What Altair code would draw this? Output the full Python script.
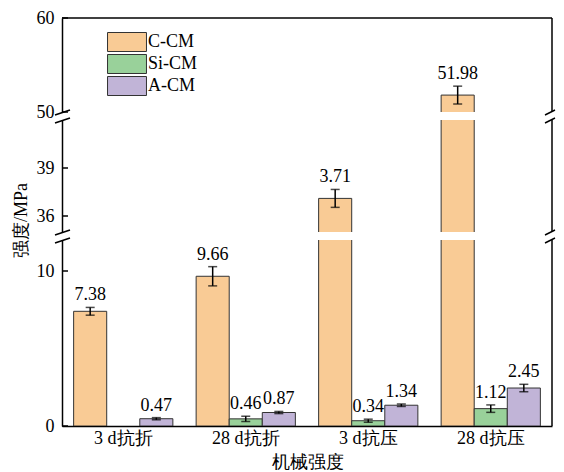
import altair as alt
import pandas as pd

categories = ["3 d抗折", "28 d抗折", "3 d抗压", "28 d抗压"]
series = ["C-CM", "Si-CM", "A-CM"]
colors = ["#F9CB95", "#99D19A", "#C1B4D7"]

c_vals = [7.40, 9.66, 37.10, 51.80]
c_err = [0.25, 0.62, 0.56, 0.95]
c_text = ["7.38", "9.66", "3.71", "51.98"]
si_vals = [None, 0.46, 0.34, 1.12]
si_err = [None, 0.17, 0.10, 0.24]
si_text = [None, "0.46", "0.34", "1.12"]
a_vals = [0.47, 0.87, 1.34, 2.45]
a_err = [0.07, 0.07, 0.08, 0.24]
a_text = ["0.47", "0.87", "1.34", "2.45"]

# broken axis segments: (name, low, high, tick values)
segments = [("top", 50, 60, [50, 60]), ("mid", 35, 42, [36, 39]), ("bot", 0, 12, [0, 10])]

FONT = "Liberation Serif"

rows = []
for s, vals, errs, texts in [("C-CM", c_vals, c_err, c_text), ("Si-CM", si_vals, si_err, si_text),
                             ("A-CM", a_vals, a_err, a_text)]:
    for cat, v, e, t in zip(categories, vals, errs, texts):
        if v is None:
            continue
        seg = "top" if v >= 50 else ("mid" if v >= 35 else "bot")
        rows.append({"cat": cat, "series": s, "val": v, "base": 0.0, "lo": v - e, "hi": v + e,
                     "txt": t, "seg": seg})
df = pd.DataFrame(rows)

W = 490
heights = {"top": 94, "mid": 112, "bot": 186}

panels = []
for name, lo, hi, ticks in segments:
    H = heights[name]
    if name == "bot":
        xaxis = alt.Axis(labelAngle=0, labelFontSize=18, labelPadding=3, ticks=False,
                         title="机械强度", titleFontSize=18, titleFontWeight="normal", titlePadding=6)
    else:
        xaxis = None
    yaxis = alt.Axis(values=ticks, labelFontSize=18, labelPadding=8, ticks=False, grid=False,
                     title="强度/MPa" if name == "mid" else None,
                     titleFontSize=18, titleFontWeight="normal", titleX=-32, titleY=100)
    yscale = alt.Scale(domain=[lo, hi], nice=False, zero=False)

    def X():
        return alt.X("cat:N", sort=categories, axis=xaxis, title=None,
                     scale=alt.Scale(paddingInner=0.19, paddingOuter=0.095))

    def XO():
        return alt.XOffset("series:N", sort=series, scale=alt.Scale(paddingInner=0, paddingOuter=0))

    def Y(field):
        return alt.Y(field, type="quantitative", scale=yscale, axis=yaxis, title=None)

    if name == "top":
        legend = alt.Legend(title=None, orient="none", legendX=55, legendY=14,
                            symbolType="M-2.05,-1L2.05,-1L2.05,1L-2.05,1Z",
                            symbolSize=361, symbolStrokeColor="#333", symbolStrokeWidth=1,
                            symbolOpacity=1, labelFont=FONT, labelFontSize=18, labelOffset=11,
                            rowPadding=-2, labelColor="black")
    else:
        legend = None

    base = alt.Chart(df)
    bars = base.mark_bar(clip=True, stroke="#333", strokeWidth=1, opacity=1).encode(
        x=X(), xOffset=XO(), y=Y("val"), y2=alt.Y2("base"),
        color=alt.Color("series:N", sort=series, scale=alt.Scale(domain=series, range=colors),
                        legend=legend))
    err = base.mark_rule(clip=True, color="black", strokeWidth=1.5).encode(
        x=X(), xOffset=XO(), y=Y("lo"), y2=alt.Y2("hi"))
    cap_lo = base.mark_tick(clip=True, color="black", size=9, thickness=1.5).encode(
        x=X(), xOffset=XO(), y=Y("lo"))
    cap_hi = base.mark_tick(clip=True, color="black", size=9, thickness=1.5).encode(
        x=X(), xOffset=XO(), y=Y("hi"))
    labels = alt.Chart(df[df["seg"] == name]).mark_text(
        baseline="bottom", dy=-3, font=FONT, fontSize=18, color="black").encode(
        x=X(), xOffset=XO(), y=Y("hi"), text="txt:N")
    tickdf = pd.DataFrame({"val": ticks})
    tks = alt.Chart(tickdf).mark_rule(color="black", strokeWidth=1.5).encode(
        y=Y("val"), x=alt.value(0), x2=alt.value(6))

    one = pd.DataFrame({"d": [0]})
    deco = []
    deco.append(alt.Chart(one).mark_rule(color="black", strokeWidth=1.5).encode(
        x=alt.value(W), y=alt.value(0), y2=alt.value(H)))
    if name == "top":
        deco.append(alt.Chart(one).mark_rule(color="black", strokeWidth=1.5).encode(
            x=alt.value(0), x2=alt.value(W), y=alt.value(0)))
    if name != "bot":
        for x0, x1 in ((-7, 8), (W - 7, W + 3)):
            deco.append(alt.Chart(one).mark_rule(color="black", strokeWidth=1.5).encode(
                x=alt.value(x0), x2=alt.value(x1), y=alt.value(H + 3), y2=alt.value(H - 2)))
    if name != "top":
        for x0, x1 in ((-7, 8), (W - 7, W + 3)):
            deco.append(alt.Chart(one).mark_rule(color="black", strokeWidth=1.5).encode(
                x=alt.value(x0), x2=alt.value(x1), y=alt.value(3), y2=alt.value(-2)))

    panel = alt.layer(bars, err, cap_lo, cap_hi, labels, tks, *deco).properties(width=W, height=H)
    panels.append(panel)

chart = alt.vconcat(*panels, spacing=8, bounds="flush").properties(
    padding={"left": 4, "top": 1, "right": 0, "bottom": 0}
).configure_view(stroke=None).configure_axis(
    labelFont=FONT, titleFont=FONT, labelColor="black", titleColor="black",
    domainColor="black", domainWidth=1.5, grid=False
)

chart.save("out.html", embed_options={"renderer": "svg", "actions": False})
